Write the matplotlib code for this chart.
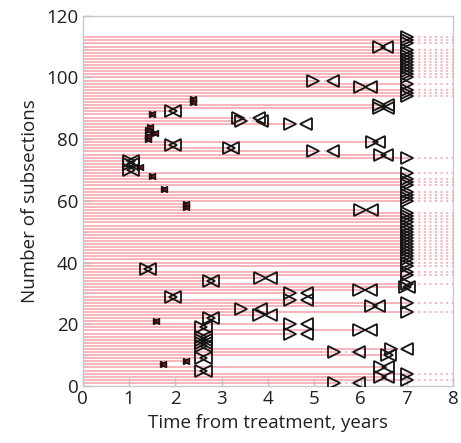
import matplotlib
matplotlib.use('Agg')
import matplotlib.pyplot as plt
from matplotlib.ticker import MultipleLocator
import numpy as np

# ---- data: one entry per subsection (id 1..113) ----
# kind: 'C' = still ongoing at last visit (censored), 'I' = interval (left, right), 'S' = near-exact (left~right)
kinds = []
lefts = []
rights = []

def add(kind, left=np.nan, right=np.nan, n=1):
    for _ in range(n):
        kinds.append(kind); lefts.append(left); rights.append(right)

LAST = 7.0
add('I', 5.42, 5.97)   # 1
add('C', LAST)         # 2
add('I', 6.41, 6.58)   # 3
add('C', LAST)         # 4
add('I', 2.56, 2.67)   # 5
add('I', 6.41, 6.58)   # 6
add('S', 1.74, 1.74)   # 7
add('S', 2.23, 2.23)   # 8
add('I', 2.56, 2.67)   # 9
add('I', 6.57, 6.64)   # 10
add('I', 5.42, 5.97)   # 11
add('I', 6.65, 6.99)   # 12
add('I', 2.56, 2.67, 4)  # 13-16
add('I', 4.48, 4.84)   # 17
add('I', 5.96, 6.22)   # 18
add('I', 2.56, 2.67)   # 19
add('I', 4.48, 4.84)   # 20
add('S', 1.58, 1.58)   # 21
add('I', 2.72, 2.81)   # 22
add('I', 3.81, 4.06)   # 23
add('C', LAST)         # 24
add('I', 3.41, 3.84)   # 25
add('I', 6.23, 6.40)   # 26
add('C', LAST)         # 27
add('I', 4.48, 4.84)   # 28
add('I', 1.90, 2.00)   # 29
add('I', 4.48, 4.84)   # 30
add('I', 5.96, 6.22)   # 31
add('I', 6.96, 7.05)   # 32
add('C', LAST)         # 33
add('I', 2.72, 2.81)   # 34
add('I', 3.82, 4.07)   # 35
add('C', LAST, n=2)    # 36-37
add('I', 1.37, 1.46)   # 38
add('C', LAST, n=18)   # 39-56
add('I', 5.99, 6.24)   # 57
add('S', 2.23, 2.23, 2)  # 58-59
add('C', LAST, n=4)    # 60-63
add('S', 1.75, 1.75)   # 64
add('C', LAST, n=3)    # 65-67
add('S', 1.50, 1.50)   # 68
add('C', LAST)         # 69
add('I', 0.99, 1.08)   # 70
add('S', 1.24, 1.24)   # 71
add('I', 0.99, 1.08, 2)  # 72-73
add('C', LAST)         # 74
add('I', 6.41, 6.57)   # 75
add('I', 4.98, 5.41)   # 76
add('I', 3.15, 3.24)   # 77
add('I', 1.90, 2.00)   # 78
add('I', 6.24, 6.40)   # 79
add('S', 1.40, 1.40)   # 80
add('S', 1.42, 1.42)   # 81
add('S', 1.57, 1.57)   # 82
add('S', 1.40, 1.40)   # 83
add('S', 1.45, 1.45)   # 84
add('I', 4.48, 4.82)   # 85
add('I', 3.42, 3.87)   # 86
add('I', 3.36, 3.80)   # 87
add('S', 1.49, 1.49)   # 88
add('I', 1.90, 2.00)   # 89
add('I', 6.40, 6.58, 2)  # 90-91
add('S', 2.39, 2.39, 2)  # 92-93
add('C', LAST, n=3)    # 94-96
add('I', 5.98, 6.23)   # 97
add('C', LAST)         # 98
add('I', 4.98, 5.41)   # 99
add('C', LAST, n=10)   # 100-109
add('I', 6.39, 6.57)   # 110
add('C', LAST, n=3)    # 111-113

subjects = np.arange(1, len(kinds) + 1)
xticks = [0, 1, 2, 3, 4, 5, 6, 7, 8]
yticks = [0, 20, 40, 60, 80, 100, 120]
xlabel = 'Time from treatment, years'
ylabel = 'Number of subsections'

# ---- drawing ----
plt.rcParams['font.family'] = ['Open Sans', 'DejaVu Sans']
fig = plt.figure(figsize=(4.61, 4.43), dpi=100)
ax = fig.add_axes([82.7/461, 1-386/443, (453.3-82.7)/461, (386-15.7)/443])
XMAX = 8
line_c = '#f6a3ab'
mk_c = '#151515'
MS = 8.5
MEW = 1.3

for y, k, L, R in zip(subjects, kinds, lefts, rights):
    ax.plot([0, L], [y, y], color=line_c, lw=1.15, solid_capstyle='butt', zorder=1)
    if k == 'C':
        ax.plot([L, XMAX], [y, y], color=line_c, lw=1.15, ls=(0, (1.3, 2.2)), zorder=1)
    elif k == 'I':
        ax.plot([L, R], [y, y], color=line_c, lw=1.15, ls=(0, (1.3, 2.2)), zorder=1)

for y, k, L, R in zip(subjects, kinds, lefts, rights):
    if k == 'C':
        ax.plot(L, y, marker='>', ms=MS, mfc='none', mec=mk_c, mew=MEW, zorder=3)
    elif k == 'I':
        ax.plot(L, y, marker='>', ms=MS, mfc='none', mec=mk_c, mew=MEW, zorder=3)
        ax.plot(R, y, marker='<', ms=MS, mfc='none', mec=mk_c, mew=MEW, zorder=3)
    else:
        ax.plot(L, y, marker='>', ms=5, mfc='#8b1010', mec=mk_c, mew=1.0, zorder=3)
        ax.plot(R, y, marker='<', ms=5, mfc='#8b1010', mec=mk_c, mew=1.0, zorder=3)

ax.set_xlim(0, XMAX)
ax.set_ylim(0, 120)
ax.set_xticks(xticks)
ax.set_yticks(yticks)
ax.yaxis.set_minor_locator(MultipleLocator(10))
ax.tick_params(axis='both', which='major', direction='in', length=6, width=1,
               color='#c0c0c0', labelsize=13.5, labelcolor='#202020', pad=3)
ax.tick_params(axis='y', which='minor', direction='in', length=3, width=1, color='#c0c0c0')
for s in ax.spines.values():
    s.set_color('#c8c8c8')
    s.set_linewidth(1.0)
ax.set_xlabel(xlabel, fontsize=13.5, color='#202020', labelpad=4)
ax.set_ylabel(ylabel, fontsize=13.5, color='#202020', labelpad=5)

fig.savefig('out.png', dpi=100)
